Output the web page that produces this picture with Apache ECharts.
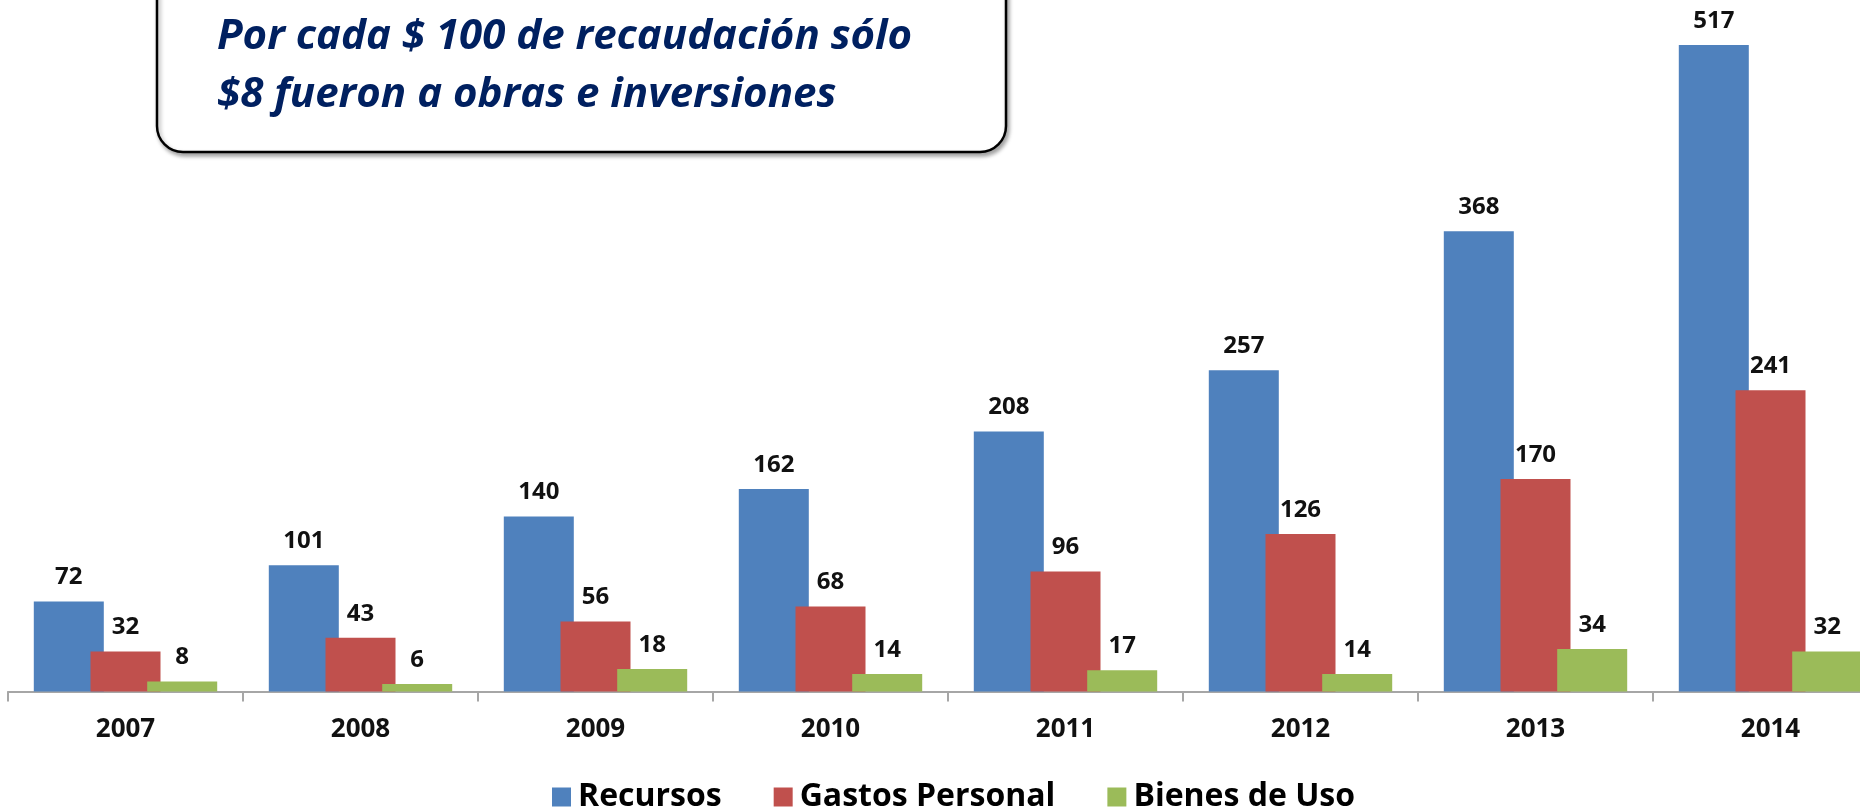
<!DOCTYPE html>
<html>
<head>
<meta charset="utf-8">
<script src="https://cdn.jsdelivr.net/npm/echarts@6/dist/echarts.min.js"></script>
<style>
  html, body { margin: 0; padding: 0; background: #fff; }
  #main { width: 1860px; height: 810px; }
</style>
</head>
<body>
<div id="main"></div>
<script>
// datos
var years = ['2007', '2008', '2009', '2010', '2011', '2012', '2013', '2014'];
var recursos = [72, 101, 140, 162, 208, 257, 368, 517];
var gastosPersonal = [32, 43, 56, 68, 96, 126, 170, 241];
var bienesDeUso = [8, 6, 18, 14, 17, 14, 34, 32];
var seriesNames = ['Recursos', 'Gastos Personal', 'Bienes de Uso'];
var colors = ['#4F81BD', '#C0504D', '#9BBB59'];

var myChart = echarts.init(document.getElementById('main'));

function barSerie(name, data, color) {
  return {
    name: name,
    type: 'bar',
    data: data,
    barWidth: 70,
    barGap: '-19%',
    itemStyle: { color: color },
    label: {
      show: true,
      position: 'top',
      distance: 12,
      color: '#111',
      fontFamily: 'Open Sans',
      fontWeight: 'bold',
      fontSize: 24
    }
  };
}

var option = {
  animation: false,
  backgroundColor: '#fff',
  color: colors,
  // la grilla se sale por la derecha, como en el original
  grid: { left: 8, width: 1880, top: 0, bottom: 118.5, outerBoundsMode: 'none', containLabel: false },
  legend: {
    data: seriesNames,
    left: 547,
    top: 776,
    itemWidth: 19,
    itemHeight: 19,
    itemGap: 52,
    icon: 'rect',
    textStyle: { fontFamily: 'Open Sans', fontWeight: 'bold', fontSize: 32, color: '#000', padding: [0, 0, 0, 2] }
  },
  xAxis: {
    type: 'category',
    data: years,
    axisLine: { lineStyle: { color: '#a6a6a6', width: 2 } },
    axisTick: { show: true, length: 10, lineStyle: { color: '#a6a6a6', width: 2 } },
    axisLabel: { margin: 25, color: '#111', fontFamily: 'Open Sans', fontWeight: 'bold', fontSize: 26 }
  },
  yAxis: {
    type: 'value',
    min: 0,
    max: 553,
    show: false,
    splitLine: { show: false }
  },
  graphic: [
    {
      type: 'rect',
      shape: { x: 157, y: -40, width: 849, height: 192, r: 26 },
      style: { fill: '#fff', stroke: '#000', lineWidth: 2.5, shadowBlur: 4, shadowOffsetX: 2, shadowOffsetY: 3, shadowColor: 'rgba(0,0,0,0.35)' },
      z: 10
    },
    {
      type: 'text',
      left: 217,
      top: 8,
      style: {
        text: 'Por cada $ 100 de recaudación sólo\n$8 fueron a obras e inversiones',
        fill: '#002060',
        font: 'italic bold 42px "Open Sans"',
        lineHeight: 58
      },
      z: 11
    }
  ],
  series: [
    barSerie(seriesNames[0], recursos, colors[0]),
    barSerie(seriesNames[1], gastosPersonal, colors[1]),
    barSerie(seriesNames[2], bienesDeUso, colors[2])
  ]
};

myChart.setOption(option);
</script>
</body>
</html>
